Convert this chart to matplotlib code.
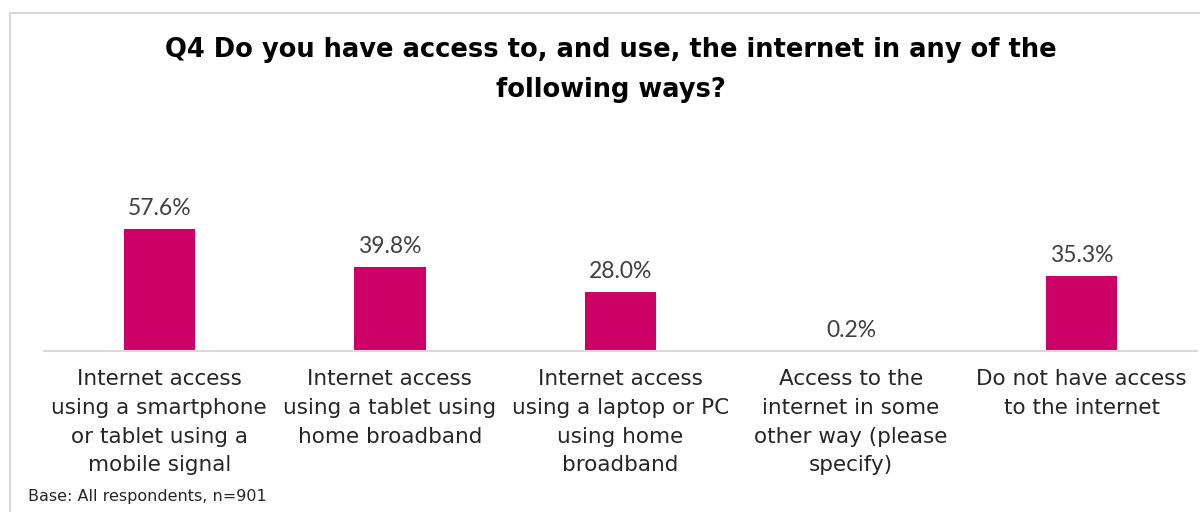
import matplotlib.pyplot as plt
from matplotlib.patches import Rectangle

categories = [
    "Internet access\nusing a smartphone\nor tablet using a\nmobile signal",
    "Internet access\nusing a tablet using\nhome broadband",
    "Internet access\nusing a laptop or PC\nusing home\nbroadband",
    "Access to the\ninternet in some\nother way (please\nspecify)",
    "Do not have access\nto the internet",
]
values = [57.6, 39.8, 28.0, 0.2, 35.3]

title = "Q4 Do you have access to, and use, the internet in any of the\nfollowing ways?"
base_note = "Base: All respondents, n=901"

bar_color = "#CC0066"
font = "DejaVu Sans"

fig = plt.figure(figsize=(12, 5.12), dpi=100)
fig.patch.set_facecolor("white")

# light grey frame around the chart area
fig.patches.append(Rectangle((10 / 1200, -0.1), 1.2, 1.1 - 13 / 512,
                             transform=fig.transFigure, fill=False,
                             edgecolor="#D9D9D9", linewidth=1.5))

ax = fig.add_axes([44 / 1200, 161 / 512, 1153 / 1200, 221 / 512])
x = list(range(len(values)))
bars = ax.bar(x, values, width=0.31, color=bar_color, zorder=2)
ax.set_xlim(-0.5, len(values) - 0.5)
ax.set_ylim(0, 104.3)

for rect, v in zip(bars, values):
    ax.annotate(f"{v:.1f}%", (rect.get_x() + rect.get_width() / 2, v),
                xytext=(0, 7), textcoords="offset points",
                ha="center", va="bottom", fontsize=16.5, family="Lato",
                color="#404040")

ax.set_xticks(x)
ax.set_xticklabels(categories, fontsize=15.5, family=font, color="#262626",
                   linespacing=1.55)
ax.tick_params(axis="x", length=0, pad=13)
ax.set_yticks([])
for side in ("top", "right", "left"):
    ax.spines[side].set_visible(False)
ax.spines["bottom"].set_color("#D9D9D9")
ax.spines["bottom"].set_linewidth(1.5)

fig.text(611 / 1200, 1 - 70 / 512, title, ha="center", va="center",
         fontsize=18.5, fontweight="bold", family=font, color="black",
         linespacing=1.7)
fig.text(28 / 1200, 1 - 497 / 512, base_note, ha="left", va="center",
         fontsize=11.5, family=font, color="#262626")

fig.savefig("out.png", dpi=100)
